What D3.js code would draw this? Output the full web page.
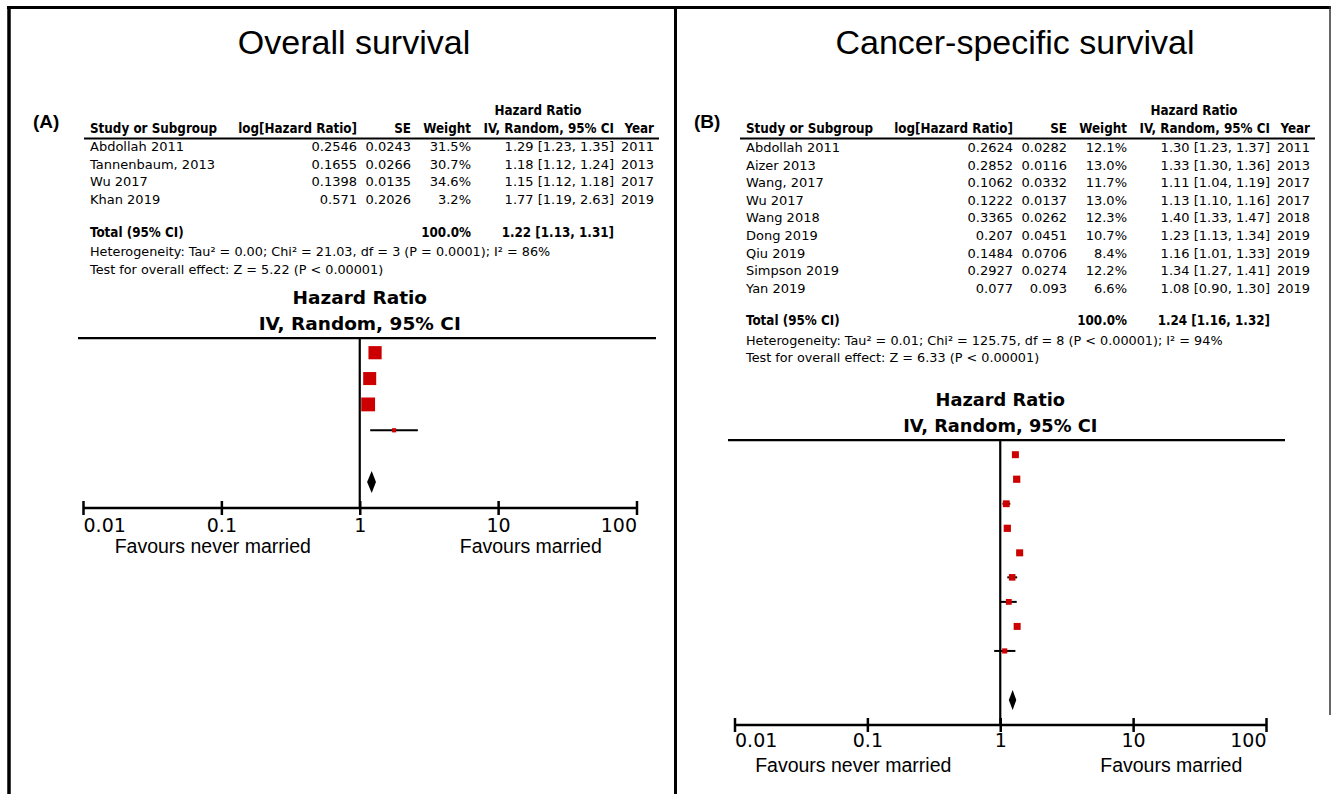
<!DOCTYPE html>
<html>
<head>
<meta charset="utf-8">
<script src="https://cdn.jsdelivr.net/npm/d3@7"></script>
<style>
body { margin: 0; background: #fff; }
svg { display: block; }
.tbl { font-family: "DejaVu Sans", sans-serif; font-size: 13px; fill: #000; }
.bold { font-family: "DejaVu Sans Condensed", "DejaVu Sans", sans-serif; font-weight: bold; font-size: 13.3px; }
.title { font-family: "Liberation Sans", Arial, sans-serif; font-size: 34px; }
.tag { font-family: "Liberation Sans", Arial, sans-serif; font-size: 19px; font-weight: bold; }
.fav { font-family: "Liberation Sans", Arial, sans-serif; font-size: 19.5px; }
.fhead { font-family: "DejaVu Sans", sans-serif; font-weight: bold; }
</style>
</head>
<body>
<svg id="chart" width="1331" height="794"></svg>
<script>
// ---- panel A : overall survival
var studiesA = ["Abdollah 2011", "Tannenbaum, 2013", "Wu 2017", "Khan 2019"];
var logHrA = [0.2546, 0.1655, 0.1398, 0.571];
var seA = [0.0243, 0.0266, 0.0135, 0.2026];
var weightA = [31.5, 30.7, 34.6, 3.2];
var hrA = [1.29, 1.18, 1.15, 1.77];
var loA = [1.23, 1.12, 1.12, 1.19];
var hiA = [1.35, 1.24, 1.18, 2.63];
var yearA = [2011, 2013, 2017, 2019];
var totalA = [1.22, 1.13, 1.31];
var hetA = "Heterogeneity: Tau² = 0.00; Chi² = 21.03, df = 3 (P = 0.0001); I² = 86%";
var testA = "Test for overall effect: Z = 5.22 (P < 0.00001)";

// ---- panel B : cancer-specific survival
var studiesB = ["Abdollah 2011", "Aizer 2013", "Wang, 2017", "Wu 2017", "Wang 2018", "Dong 2019", "Qiu 2019", "Simpson 2019", "Yan 2019"];
var logHrB = [0.2624, 0.2852, 0.1062, 0.1222, 0.3365, 0.207, 0.1484, 0.2927, 0.077];
var seB = [0.0282, 0.0116, 0.0332, 0.0137, 0.0262, 0.0451, 0.0706, 0.0274, 0.093];
var weightB = [12.1, 13.0, 11.7, 13.0, 12.3, 10.7, 8.4, 12.2, 6.6];
var hrB = [1.30, 1.33, 1.11, 1.13, 1.40, 1.23, 1.16, 1.34, 1.08];
var loB = [1.23, 1.30, 1.04, 1.10, 1.33, 1.13, 1.01, 1.27, 0.90];
var hiB = [1.37, 1.36, 1.19, 1.16, 1.47, 1.34, 1.33, 1.41, 1.30];
var yearB = [2011, 2013, 2017, 2017, 2018, 2019, 2019, 2019, 2019];
var totalB = [1.24, 1.16, 1.32];
var hetB = "Heterogeneity: Tau² = 0.01; Chi² = 125.75, df = 8 (P < 0.00001); I² = 94%";
var testB = "Test for overall effect: Z = 6.33 (P < 0.00001)";

var columnHeads = ["Study or Subgroup", "log[Hazard Ratio]", "SE", "Weight", "IV, Random, 95% CI", "Year"];
var tickValues = [0.01, 0.1, 1, 10, 100];
var favourLabels = ["Favours never married", "Favours married"];

var svg = d3.select("#chart");
svg.append("rect").attr("width", 1331).attr("height", 794).attr("fill", "#fff");

// frame
svg.append("line").attr("x1", 7).attr("x2", 1331).attr("y1", 7.5).attr("y2", 7.5).attr("stroke", "#000").attr("stroke-width", 3);
svg.append("line").attr("x1", 9).attr("x2", 9).attr("y1", 6).attr("y2", 794).attr("stroke", "#000").attr("stroke-width", 3.5);
svg.append("line").attr("x1", 675.5).attr("x2", 675.5).attr("y1", 6).attr("y2", 794).attr("stroke", "#000").attr("stroke-width", 3);
svg.append("line").attr("x1", 1330).attr("x2", 1330).attr("y1", 6).attr("y2", 715).attr("stroke", "#333").attr("stroke-width", 1.5);

function fmt2(v) { return v.toFixed(2); }
function ciText(h, l, u) { return fmt2(h) + " [" + fmt2(l) + ", " + fmt2(u) + "]"; }

function drawPanel(p) {
  var g = svg.append("g");
  var n = p.studies.length;

  g.append("text").attr("class", "title").attr("x", p.titleX).attr("y", 54)
    .attr("text-anchor", "middle").text(p.title);
  g.append("text").attr("class", "tag").attr("x", p.tagX).attr("y", 128).text(p.tag);

  // table
  var c = p.col0;
  var colX = [c, c + 267, c + 321, c + 381, c + 524, c + 564];
  var anchors = ["start", "end", "end", "end", "end", "end"];
  var t = g.append("g").attr("class", "tbl");

  t.append("text").attr("class", "bold").attr("x", c + 448).attr("y", 115)
    .attr("text-anchor", "middle").text("Hazard Ratio");
  t.selectAll("text.head").data(columnHeads).enter().append("text")
    .attr("class", "head bold")
    .attr("x", function(d, i) { return colX[i]; })
    .attr("y", 133)
    .attr("text-anchor", function(d, i) { return anchors[i]; })
    .text(function(d) { return d; });
  t.append("line").attr("x1", c - 6).attr("x2", c + 569).attr("y1", 138.5).attr("y2", 138.5)
    .attr("stroke", "#000").attr("stroke-width", 2);

  var rowY = function(i) { return p.row0 + i * p.rowStep; };
  var rows = t.selectAll("g.row").data(p.studies).enter().append("g").attr("class", "row");
  var cells = [
    function(d, i) { return d; },
    function(d, i) { return String(p.logHr[i]); },
    function(d, i) { return String(p.se[i]); },
    function(d, i) { return p.weight[i].toFixed(1) + "%"; },
    function(d, i) { return ciText(p.hr[i], p.lo[i], p.hi[i]); },
    function(d, i) { return String(p.year[i]); }
  ];
  cells.forEach(function(f, k) {
    rows.append("text")
      .attr("x", colX[k])
      .attr("y", function(d, i) { return rowY(i); })
      .attr("text-anchor", anchors[k])
      .text(f);
  });

  var totY = rowY(n - 1) + 32.5;
  t.append("text").attr("class", "bold").attr("x", c).attr("y", totY).text("Total (95% CI)");
  t.append("text").attr("class", "bold").attr("x", colX[3]).attr("y", totY).attr("text-anchor", "end").text("100.0%");
  t.append("text").attr("class", "bold").attr("x", colX[4]).attr("y", totY).attr("text-anchor", "end")
    .text(ciText(p.total[0], p.total[1], p.total[2]));
  t.append("text").attr("x", c).attr("y", totY + 19.5).style("font-size", "12.8px").text(p.het);
  t.append("text").attr("x", c).attr("y", totY + 37).style("font-size", "12.8px").text(p.test);

  // forest plot
  var x = d3.scaleLog().domain([0.01, 100]).range([p.axisL, p.axisR]);
  var y = d3.scaleLinear().domain([0, n + 1]).range([p.plot0, p.diamondY]);
  var topY = p.plot0 - 14.5;
  var axisY = p.diamondY + p.plotStep;

  g.append("text").attr("class", "fhead").attr("x", x(1)).attr("y", topY - 34)
    .attr("text-anchor", "middle").style("font-size", p.headSize + "px").text("Hazard Ratio");
  g.append("text").attr("class", "fhead").attr("x", x(1)).attr("y", topY - 8)
    .attr("text-anchor", "middle").style("font-size", p.headSize + "px").text("IV, Random, 95% CI");
  g.append("line").attr("x1", p.lineL).attr("x2", p.lineR).attr("y1", topY).attr("y2", topY)
    .attr("stroke", "#000").attr("stroke-width", 2.2);
  g.append("line").attr("x1", x(1)).attr("x2", x(1)).attr("y1", topY).attr("y2", axisY)
    .attr("stroke", "#000").attr("stroke-width", 2.2);

  var marks = g.selectAll("g.study").data(p.studies).enter().append("g").attr("class", "study");
  marks.append("line")
    .attr("x1", function(d, i) { return x(p.lo[i]); })
    .attr("x2", function(d, i) { return x(p.hi[i]); })
    .attr("y1", function(d, i) { return y(i); })
    .attr("y2", function(d, i) { return y(i); })
    .attr("stroke", "#000").attr("stroke-width", 2);
  marks.append("rect")
    .attr("x", function(d, i) { return x(p.hr[i]) - p.sqK * Math.sqrt(p.weight[i]) / 2; })
    .attr("y", function(d, i) { return y(i) - p.sqK * Math.sqrt(p.weight[i]) / 2; })
    .attr("width", function(d, i) { return p.sqK * Math.sqrt(p.weight[i]); })
    .attr("height", function(d, i) { return p.sqK * Math.sqrt(p.weight[i]); })
    .attr("fill", "#cc0000");

  var dy = y(n + 1);
  g.append("path")
    .attr("d", "M" + x(p.total[1]) + "," + dy + "L" + x(p.total[0]) + "," + (dy - p.diaH) +
               "L" + x(p.total[2]) + "," + dy + "L" + x(p.total[0]) + "," + (dy + p.diaH) + "Z")
    .attr("fill", "#000");

  var ax = g.append("g").attr("transform", "translate(0," + axisY + ")")
    .call(d3.axisBottom(x).tickValues(tickValues).tickSize(6).tickPadding(6)
      .tickFormat(function(d) { return String(d); }));
  ax.select(".domain").attr("d", "M" + p.axisL + ",0H" + p.axisR).attr("stroke-width", 2.5);
  ax.selectAll(".tick line").attr("y1", -7).attr("y2", 7).attr("stroke-width", 2.5);
  ax.selectAll(".tick text").attr("fill", "#000").attr("y", p.tickDy)
    .attr("text-anchor", function(d, i) { return i === 0 ? "start" : (i === tickValues.length - 1 ? "end" : "middle"); })
    .style("font-size", "19px").style("font-family", "DejaVu Sans, sans-serif");

  g.append("text").attr("class", "fav").attr("x", x(1) - 147).attr("y", axisY + p.favDy)
    .attr("text-anchor", "middle").text(favourLabels[0]);
  g.append("text").attr("class", "fav").attr("x", x(1) + 171).attr("y", axisY + p.favDy)
    .attr("text-anchor", "middle").text(favourLabels[1]);
}

drawPanel({
  title: "Overall survival", titleX: 354, tag: "(A)", tagX: 33,
  studies: studiesA, logHr: logHrA, se: seA, weight: weightA, hr: hrA, lo: loA, hi: hiA, year: yearA,
  total: totalA, het: hetA, test: testA,
  col0: 90, row0: 151, rowStep: 17.7,
  axisL: 83, axisR: 636.5, lineL: 78, lineR: 656,
  plot0: 352.7, diamondY: 482, plotStep: 26, sqK: 2.35, diaH: 11,
  headSize: 18.5, tickDy: 11, favDy: 45
});

drawPanel({
  title: "Cancer-specific survival", titleX: 1015, tag: "(B)", tagX: 694,
  studies: studiesB, logHr: logHrB, se: seB, weight: weightB, hr: hrB, lo: loB, hi: hiB, year: yearB,
  total: totalB, het: hetB, test: testB,
  col0: 746, row0: 152, rowStep: 17.6,
  axisL: 734.5, axisR: 1266, lineL: 728, lineR: 1285,
  plot0: 454.7, diamondY: 700, plotStep: 25, sqK: 2.0, diaH: 10,
  headSize: 17.8, tickDy: 9, favDy: 47
});
</script>
</body>
</html>
